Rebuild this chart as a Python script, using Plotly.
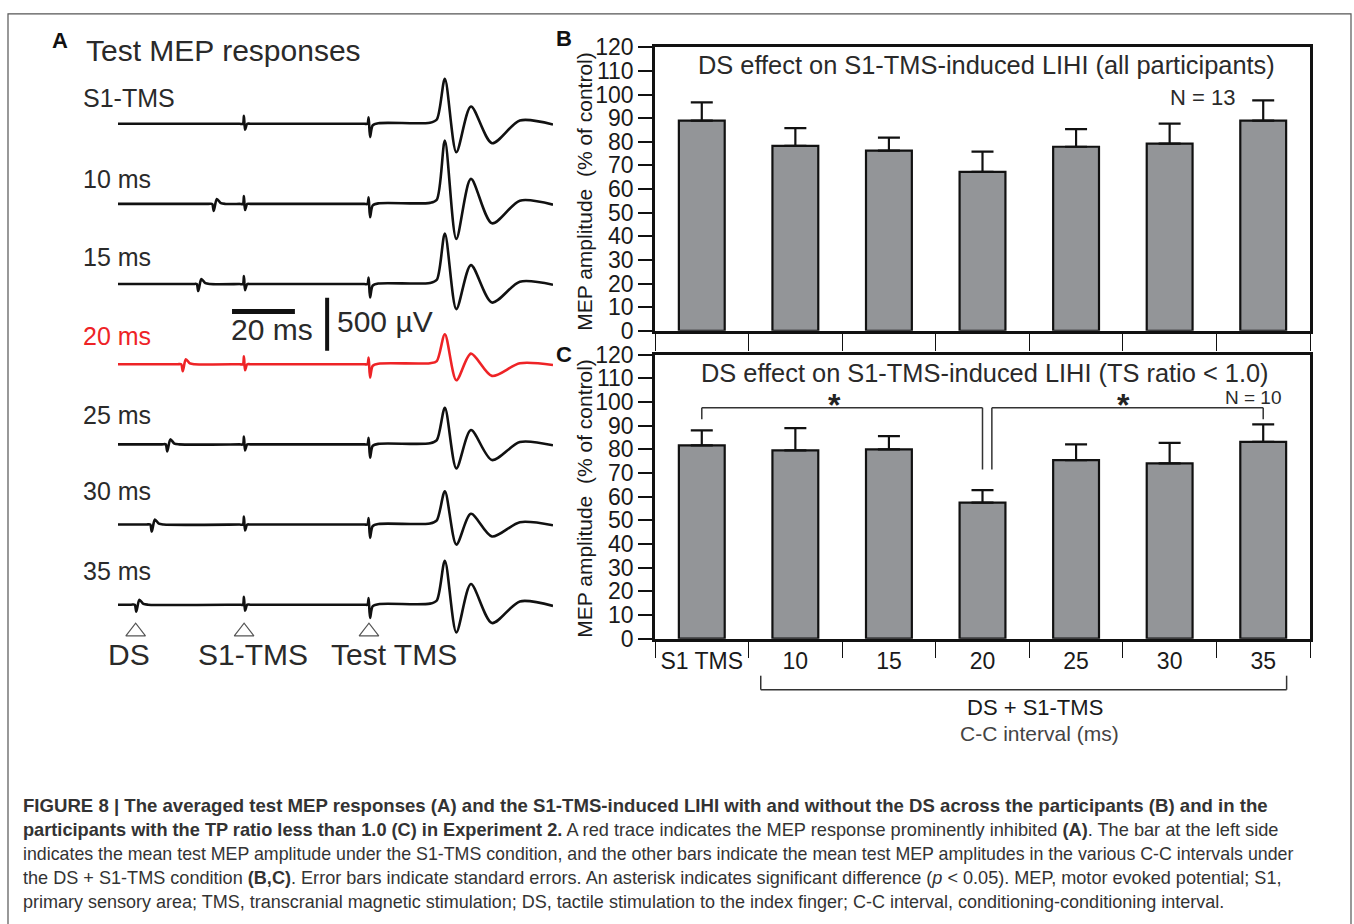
import plotly.graph_objects as go

W, H = 1354, 924
# the photographed page shows the figure vertically offset/compressed; compensate
Y0, SY = 12.2, 0.972


def px(x):
    return x / W


def py(y):
    return 1 - ((y - Y0) / SY) / H


# ---------------- Panel A data (averaged EMG traces) ----------------
TRACE_LABELS = ["S1-TMS", "10 ms", "15 ms", "20 ms", "25 ms", "30 ms", "35 ms"]
DS_LEAD_MS = [None, 10, 15, 20, 25, 30, 35]        # DS delivered this many ms before S1-TMS
S1_TMS_TIME_MS = -40.3                              # relative to test TMS
TRACE_START_MS, TRACE_END_MS = -81.0, 59.4

# MEP waveform key points (time ms after test TMS, amplitude uV)
MEP_T_MS = [19.7, 21.9, 24.5, 28.2, 32.9, 39.7, 48.7, 59.4]
MEP_UV = [
    [10, 40, 424, -268, 163, -183, 31, -7],     # S1-TMS
    [10, 40, 597, -330, 236, -183, 31, -7],     # 10 ms
    [10, 40, 477, -236, 179, -174, 22, -7],     # 15 ms
    [10, 30, 283, -151, 100, -110, 9, -7],      # 20 ms
    [10, 40, 345, -226, 135, -148, 22, -9],     # 25 ms
    [10, 40, 314, -189, 101, -113, 22, -7],     # 30 ms
    [10, 40, 415, -261, 195, -173, 31, -12],    # 35 ms
]
# stimulus artifacts (time relative to stimulus, amplitude uV)
TEST_ART_T = [-1.5, -0.5, -0.1, 0.35, 1.2, 3.0]
TEST_ART_UV = [0, 0, 62, -126, -15, 5]
S1_ART_T = [-1.5, -0.4, -0.05, 0.3, 1.0, 2.0]
S1_ART_UV = [0, 0, 75, -57, 0, 0]
DS_ART_T = [-1.5, -0.3, 0.2, 1.2, 2.5, 4.0]
DS_ART_UV = [0, 0, -66, 47, 8, 0]

ROW_SPACING_UV = 756
HIGHLIGHT_ROW = 3

# ---------------- Panels B / C data ----------------
CATS = ["S1 TMS", "10", "15", "20", "25", "30", "35"]
B_MEAN = [89.0, 78.3, 76.3, 67.3, 77.9, 79.2, 89.0]
B_SE = [7.7, 7.5, 5.5, 8.5, 7.5, 8.5, 8.5]
C_MEAN = [81.7, 79.6, 80.0, 57.5, 75.5, 74.1, 83.2]
C_SE = [6.3, 9.4, 5.6, 5.3, 6.6, 8.7, 7.4]

FONT = "Liberation Sans, Arial, Helvetica, sans-serif"
INK = "#1a1a1a"
BAR_FILL = "#939598"
RED = "#ee2326"

fig = go.Figure()

# ---- Panel A traces ----
for i, lab in enumerate(TRACE_LABELS):
    t, v = [TRACE_START_MS], [0]
    if DS_LEAD_MS[i] is not None:
        t0 = S1_TMS_TIME_MS - DS_LEAD_MS[i]
        t += [t0 + d for d in DS_ART_T]
        v += DS_ART_UV
    t += [S1_TMS_TIME_MS + d for d in S1_ART_T]
    v += S1_ART_UV
    t += TEST_ART_T
    v += TEST_ART_UV
    t += MEP_T_MS
    v += MEP_UV[i]
    y = [val - i * ROW_SPACING_UV for val in v]
    color = RED if i == HIGHLIGHT_ROW else "#111111"
    fig.add_trace(go.Scatter(
        x=t, y=y, mode="lines", xaxis="x", yaxis="y",
        line=dict(color=color, width=2.6, shape="spline", smoothing=0.8),
        showlegend=False, hoverinfo="skip"))

# stimulus markers (open triangles)
MARK_T = [S1_TMS_TIME_MS - 35, S1_TMS_TIME_MS, 0.0]
fig.add_trace(go.Scatter(
    x=MARK_T, y=[-4790] * 3, mode="markers", xaxis="x", yaxis="y",
    marker=dict(symbol="triangle-up-open", size=17, color="#555555",
                line=dict(color="#555555", width=1.2)),
    showlegend=False, hoverinfo="skip"))


# ---- Panel B / C bars ----
def bar_trace(means, se, xa, ya):
    return go.Bar(
        x=CATS, y=means, xaxis=xa, yaxis=ya, width=0.49,
        marker=dict(color=BAR_FILL, line=dict(color="#111111", width=2.2)),
        error_y=dict(type="data", array=se, arrayminus=[0] * len(se),
                     symmetric=False, color="#111111", thickness=2.2, width=11),
        showlegend=False, hoverinfo="skip")


fig.add_trace(bar_trace(B_MEAN, B_SE, "x2", "y2"))
fig.add_trace(bar_trace(C_MEAN, C_SE, "x3", "y3"))

axis_common_y = dict(range=[0, 120], dtick=10, tick0=0, ticks="outside", ticklen=14,
                     tickwidth=1.5, tickcolor="#111111", showline=True, linewidth=2.5,
                     linecolor="#111111", mirror=True, showgrid=False, zeroline=False,
                     tickfont=dict(family=FONT, size=23, color=INK), fixedrange=True)
axis_common_x = dict(type="category", categoryorder="array", categoryarray=CATS,
                     range=[-0.5, 6.5], ticks="outside", tickson="boundaries",
                     ticklen=17, tickwidth=1.2, tickcolor="#111111", showline=True,
                     linewidth=2.5, linecolor="#111111", mirror=True, showgrid=False,
                     zeroline=False, fixedrange=True)

fig.update_layout(
    width=W, height=H, autosize=False,
    margin=dict(l=0, r=0, t=0, b=0),
    paper_bgcolor="white", plot_bgcolor="white",
    font=dict(family=FONT, color=INK),
    xaxis=dict(domain=[px(118), px(553)], range=[TRACE_START_MS, TRACE_END_MS],
               visible=False, fixedrange=True, anchor="y"),
    yaxis=dict(domain=[py(680), py(60)], range=[-5253, 594], visible=False,
               fixedrange=True, anchor="x"),
    xaxis2=dict(domain=[px(655), px(1310)], anchor="y2", showticklabels=False,
                **axis_common_x),
    yaxis2=dict(domain=[py(330), py(46.5)], anchor="x2", **axis_common_y),
    xaxis3=dict(domain=[px(655), px(1310)], anchor="y3", showticklabels=True,
                tickfont=dict(family=FONT, size=23, color=INK),
                **axis_common_x),
    yaxis3=dict(domain=[py(638), py(354)], anchor="x3", **axis_common_y),
)

shapes = []
# outer frame
shapes.append(dict(type="rect", xref="paper", yref="paper", x0=px(8), x1=px(1351),
                   y0=py(960), y1=0.999, line=dict(color="#555555", width=1.2)))
# scale bars (panel A)
shapes.append(dict(type="line", xref="x", yref="y", x0=-44.2, x1=-23.9, y0=-1770, y1=-1770,
                   line=dict(color="#111111", width=5)))
shapes.append(dict(type="line", xref="x", yref="y", x0=-13.5, x1=-13.5, y0=-1641, y1=-2141,
                   line=dict(color="#111111", width=4)))
# significance brackets in C
BR = dict(color="#333333", width=1.5)
for (xa, xb, ya_end, yb_end) in [(0, 3.0, 92.7, 71.5), (3.1, 6.0, 71.5, 92.7)]:
    shapes.append(dict(type="line", xref="x3", yref="y3", x0=xa, x1=xa, y0=ya_end, y1=97.6, line=BR))
    shapes.append(dict(type="line", xref="x3", yref="y3", x0=xa, x1=xb, y0=97.6, y1=97.6, line=BR))
    shapes.append(dict(type="line", xref="x3", yref="y3", x0=xb, x1=xb, y0=97.6, y1=yb_end, line=BR))
# DS + S1-TMS bracket under C
shapes.append(dict(type="line", xref="x3", yref="paper", x0=0.63, x1=6.25, y0=py(689), y1=py(689), line=BR))
shapes.append(dict(type="line", xref="x3", yref="paper", x0=0.63, x1=0.63, y0=py(689), y1=py(675), line=BR))
shapes.append(dict(type="line", xref="x3", yref="paper", x0=6.25, x1=6.25, y0=py(689), y1=py(675), line=BR))
fig.update_layout(shapes=shapes)

ann = []


def txt(text, x, y, size, color=INK, xanchor="center", yanchor="middle", angle=0,
        xref="paper", yref="paper", family=FONT):
    ann.append(dict(text=text, x=x, y=y, xref=xref, yref=yref, showarrow=False,
                    xanchor=xanchor, yanchor=yanchor, textangle=angle,
                    font=dict(family=family, size=size, color=color)))


# Panel A texts
txt("<b>A</b>", px(60), py(40), 22, "#111111")
txt("Test MEP responses", px(84), py(50), 30, "#2a2a2a", xanchor="left")
LABEL_Y = [97, 178, 256, 335, 414, 490, 570]
for i, lab in enumerate(TRACE_LABELS):
    txt(lab, px(81), py(LABEL_Y[i]), 25, RED if i == HIGHLIGHT_ROW else "#2a2a2a",
        xanchor="left")
txt("20 ms", px(272), py(329), 30, "#2a2a2a")
txt("500 µV", px(385), py(321), 30, "#2a2a2a")
txt("DS", px(129), py(654), 30, "#2a2a2a")
txt("S1-TMS", px(253), py(654), 30, "#2a2a2a")
txt("Test TMS", px(394), py(654), 30, "#2a2a2a")

# Panel B texts
txt("<b>B</b>", px(564), py(38), 22, "#111111")
txt("MEP amplitude  (% of control)", px(585), py(191), 21, INK, angle=-90)
txt("DS effect on S1-TMS-induced LIHI (all participants)", px(986), py(64), 25.4, "#2a2a2a")
txt("N = 13", px(1202), py(97), 22, "#2a2a2a")

# Panel C texts
txt("<b>C</b>", px(564), py(354), 22, "#111111")
txt("MEP amplitude  (% of control)", px(585), py(498), 21, INK, angle=-90)
txt("DS effect on S1-TMS-induced LIHI (TS ratio &lt; 1.0)", px(985), py(372), 25.4, "#2a2a2a")
txt("N = 10", px(1253), py(397), 19, "#2a2a2a")
txt("<b>*</b>", px(834), py(404), 32, "#222222")
txt("<b>*</b>", px(1123), py(404), 32, "#222222")
txt("DS + S1-TMS", px(1035), py(707), 22, "#1a1a1a")
txt("C-C interval (ms)", px(1039), py(733), 21, "#444444")

# Caption
CAPTION = [
    "<b>FIGURE 8 | The averaged test MEP responses (A) and the S1-TMS-induced LIHI with and without the DS across the participants (B) and in the</b>",
    "<b>participants with the TP ratio less than 1.0 (C) in Experiment 2.</b> A red trace indicates the MEP response prominently inhibited <b>(A)</b>. The bar at the left side",
    "indicates the mean test MEP amplitude under the S1-TMS condition, and the other bars indicate the mean test MEP amplitudes in the various C-C intervals under",
    "the DS + S1-TMS condition <b>(B,C)</b>. Error bars indicate standard errors. An asterisk indicates significant difference (<i>p</i> &lt; 0.05). MEP, motor evoked potential; S1,",
    "primary sensory area; TMS, transcranial magnetic stimulation; DS, tactile stimulation to the index finger; C-C interval, conditioning-conditioning interval.",
]
CAP_Y = [805, 829, 853, 877, 901]
CAP_SIZE = [18.6, 18.2, 17.8, 18.1, 18.0]
for line, yy, sz in zip(CAPTION, CAP_Y, CAP_SIZE):
    txt(line, px(21), py(yy), sz, "#333333", xanchor="left")

fig.update_layout(annotations=ann)

fig.write_html("out.html")
